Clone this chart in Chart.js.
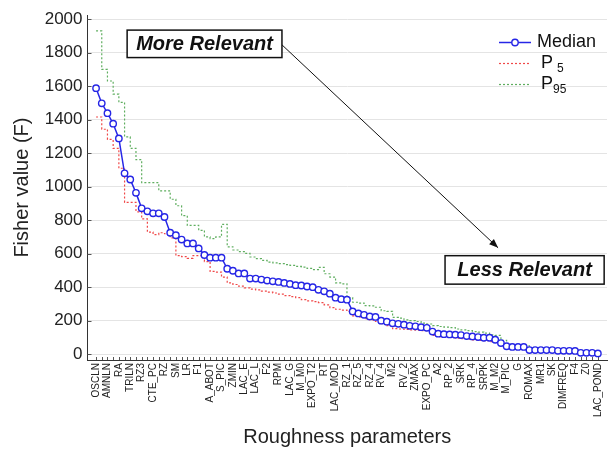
<!DOCTYPE html>
<html>
<head>
<meta charset="utf-8">
<script src="https://cdn.jsdelivr.net/npm/chart.js@4/dist/chart.umd.min.js"></script>
<style>
  html, body { margin: 0; padding: 0; background: #fff; }
  #wrap { width: 613px; height: 450px; position: relative; }
</style>
</head>
<body>
<div id="wrap"><canvas id="c" width="613" height="450"></canvas></div>
<script>
// Tick labels (every other parameter is labelled on the axis)
const tickLabels = ['OSCLN','AMNLN','RA','TRILN','RZ3','CTE_PC','RZ','SM','LR','F1',
  'A_ABOT','S_PIC','ZMIN','LAC_E','LAC_L','F2','RPM','LAC_G','M_M0','EXPO_T2',
  'RT','LAC_MOD','RZ_1','RZ_5','RZ_4','RV_4','M2','RV_2','ZMAX','EXPO_PC',
  'A2','RP_2','SRK','RP_4','SRPK','M_M2','M_PIC','G','ROMAX','MR1',
  'SK','DIMFREQ','F4','Z0','LAC_POND'];

const seriesNames = ['Median', 'P', 'P'];
const seriesSubs = ['', '5', '95'];

const median = [1588,1498,1439,1376,1288,1080,1043,963,871,853,
  841,841,819,725,710,684,661,661,631,592,
  576,576,576,510,498,482,482,451,451,445,
  439,435,431,425,419,412,410,404,400,384,
  375,361,337,328,325,255,243,235,225,222,
  200,194,184,181,176,169,166,161,157,135,
  122,119,118,116,114,108,106,102,98,98,
  86,66,47,43,43,43,24,24,24,24,
  24,20,20,20,19,8,8,8,4];

const p5 = [1416,1343,1282,1229,1110,906,906,850,808,729,
  714,725,719,694,588,582,572,588,588,553,
  494,490,460,425,416,406,396,388,384,376,
  370,365,358,350,343,337,325,318,314,308,
  294,278,268,263,255,229,222,212,205,195,
  182,170,152,150,148,145,143,141,140,112,
  105,102,100,95,92,90,85,82,80,75,
  70,60,40,38,38,38,20,20,20,20,
  20,17,17,17,17,6,6,6,3];

const p95 = [1930,1700,1631,1553,1504,1298,1229,1161,1024,1024,
  1024,975,975,925,886,827,769,769,739,700,
  690,700,775,641,622,612,602,580,570,560,
  550,545,540,535,530,524,520,512,505,518,
  480,460,425,420,337,310,305,290,288,280,
  259,255,219,215,205,200,195,185,180,170,
  165,161,158,150,145,140,135,131,125,115,
  112,82,59,50,50,50,28,28,28,28,
  28,23,23,23,23,11,11,11,6];

const yTickValues = [];
for (let v = 0; v <= 2000; v += 100) yTickValues.push(v);

const FONT = '"Liberation Sans", Arial, Helvetica, sans-serif';
const toXY = arr => arr.map((v, i) => ({ x: i, y: v }));

const innerTicks = {
  id: 'innerTicks',
  beforeDatasetsDraw(chart) {
    const { ctx, chartArea: a, scales: { x, y } } = chart;
    ctx.save();
    ctx.strokeStyle = '#555';
    ctx.lineWidth = 1;
    y.ticks.forEach(t => {
      const py = Math.round(y.getPixelForValue(t.value)) + 0.5;
      const len = t.value % 200 === 0 ? 4 : 3;
      ctx.beginPath(); ctx.moveTo(a.left, py); ctx.lineTo(a.left + len, py); ctx.stroke();
    });
    x.ticks.forEach(t => {
      const px = Math.round(x.getPixelForValue(t.value)) + 0.5;
      ctx.beginPath(); ctx.moveTo(px, a.bottom); ctx.lineTo(px, a.bottom - 3); ctx.stroke();
    });
    ctx.restore();
  }
};

const overlay = {
  id: 'overlay',
  afterDraw(chart) {
    const { ctx, scales: { x, y } } = chart;
    ctx.save();
    // Annotation boxes
    const box = (text, x0, x1, y0, y1) => {
      const L = x.getPixelForValue(x0), R = x.getPixelForValue(x1);
      const T = y.getPixelForValue(y0), B = y.getPixelForValue(y1);
      ctx.fillStyle = '#fff';
      ctx.fillRect(L, T, R - L, B - T);
      ctx.strokeStyle = '#111';
      ctx.lineWidth = 1.5;
      ctx.strokeRect(L, T, R - L, B - T);
      ctx.fillStyle = '#111';
      ctx.font = 'italic bold 20px ' + FONT;
      ctx.textAlign = 'center';
      ctx.textBaseline = 'middle';
      ctx.fillText(text, (L + R) / 2, (T + B) / 2 + 1);
    };
    box('More Relevant', 5.45, 32.6, 1935, 1771);
    box('Less Relevant', 61.2, 89.1, 588, 418);
    // Arrow
    const ax0 = x.getPixelForValue(32.6), ay0 = y.getPixelForValue(1847);
    const ax1 = x.getPixelForValue(70.5), ay1 = y.getPixelForValue(635);
    ctx.strokeStyle = '#111';
    ctx.lineWidth = 1;
    ctx.beginPath(); ctx.moveTo(ax0, ay0); ctx.lineTo(ax1, ay1); ctx.stroke();
    const ang = Math.atan2(ay1 - ay0, ax1 - ax0);
    const hl = 9, hw = 3.5;
    ctx.fillStyle = '#111';
    ctx.beginPath();
    ctx.moveTo(ax1, ay1);
    ctx.lineTo(ax1 - hl * Math.cos(ang) + hw * Math.sin(ang), ay1 - hl * Math.sin(ang) - hw * Math.cos(ang));
    ctx.lineTo(ax1 - hl * Math.cos(ang) - hw * Math.sin(ang), ay1 - hl * Math.sin(ang) + hw * Math.cos(ang));
    ctx.closePath(); ctx.fill();

    // Legend
    const ds = chart.data.datasets;
    const lx0 = 499, lx1 = 531, rows = [42, 63, 84];
    ds.forEach((d, i) => {
      const ry = rows[i];
      ctx.strokeStyle = d.borderColor;
      ctx.lineWidth = d.borderWidth;
      ctx.setLineDash(d.borderDash || []);
      ctx.beginPath(); ctx.moveTo(lx0, ry + 0.5); ctx.lineTo(lx1, ry + 0.5); ctx.stroke();
      ctx.setLineDash([]);
      if (d.pointRadius > 0) {
        ctx.fillStyle = '#fff';
        ctx.lineWidth = d.pointBorderWidth;
        ctx.beginPath(); ctx.arc((lx0 + lx1) / 2, ry + 0.5, d.pointRadius, 0, Math.PI * 2);
        ctx.fill(); ctx.stroke();
      }
      ctx.fillStyle = '#111';
      ctx.textAlign = 'left';
      ctx.textBaseline = 'middle';
      ctx.font = '18px ' + FONT;
      if (i === 0) {
        ctx.fillText(seriesNames[i], 537, ry);
      } else {
        ctx.fillText(seriesNames[i], 541, ry);
        ctx.font = '12px ' + FONT;
        ctx.fillText(seriesSubs[i], i === 1 ? 557 : 553, ry + 6);
      }
    });
    ctx.restore();
  }
};

new Chart(document.getElementById('c'), {
  type: 'line',
  data: {
    datasets: [
      { label: 'Median', data: toXY(median), borderColor: '#2626e6', borderWidth: 1.5,
        pointRadius: 3.2, pointBorderWidth: 1.4, pointBackgroundColor: '#fff',
        pointBorderColor: '#2626e6', tension: 0, order: 0 },
      { label: 'P5', data: toXY(p5), borderColor: '#f04848', borderWidth: 1.2,
        borderDash: [2, 2], pointRadius: 0, stepped: 'before', order: 1 },
      { label: 'P95', data: toXY(p95), borderColor: '#5fae5f', borderWidth: 1.2,
        borderDash: [2, 2], pointRadius: 0, stepped: 'before', order: 2 }
    ]
  },
  options: {
    responsive: false,
    animation: false,
    layout: { padding: { left: 0, right: 6, top: 10, bottom: 0 } },
    plugins: { legend: { display: false }, tooltip: { enabled: false } },
    scales: {
      x: {
        type: 'linear', min: -1.5, max: 89.6,
        afterBuildTicks: s => { s.ticks = median.map((_, i) => ({ value: i })); },
        afterFit: s => { s.height = 90; },
        grid: { display: false, drawTicks: false },
        border: { display: true, color: '#333', width: 1 },
        ticks: {
          autoSkip: false, minRotation: 90, maxRotation: 90, padding: 3,
          color: '#222', font: { family: FONT, size: 10 },
          callback: v => (v % 2 === 0 ? tickLabels[v / 2] : '')
        },
        title: { display: true, text: 'Roughness parameters', color: '#222',
          font: { family: FONT, size: 20 }, padding: { top: 0, bottom: 1 } }
      },
      y: {
        type: 'linear', min: -35, max: 2024,
        afterBuildTicks: s => { s.ticks = yTickValues.map(v => ({ value: v })); },
        afterFit: s => { s.width = 87.5; },
        grid: { drawTicks: false,
          color: c => (c.tick && c.tick.value % 200 === 0 ? '#e4e4e4' : 'rgba(0,0,0,0)') },
        border: { display: true, color: '#333', width: 1 },
        ticks: {
          padding: 5, color: '#222', font: { family: FONT, size: 17 },
          callback: v => (v % 200 === 0 ? String(v) : '')
        },
        title: { display: true, text: 'Fisher value (F)', color: '#222',
          font: { family: FONT, size: 20 }, padding: { top: 10, bottom: 0 } }
      }
    }
  },
  plugins: [innerTicks, overlay]
});
</script>
</body>
</html>
